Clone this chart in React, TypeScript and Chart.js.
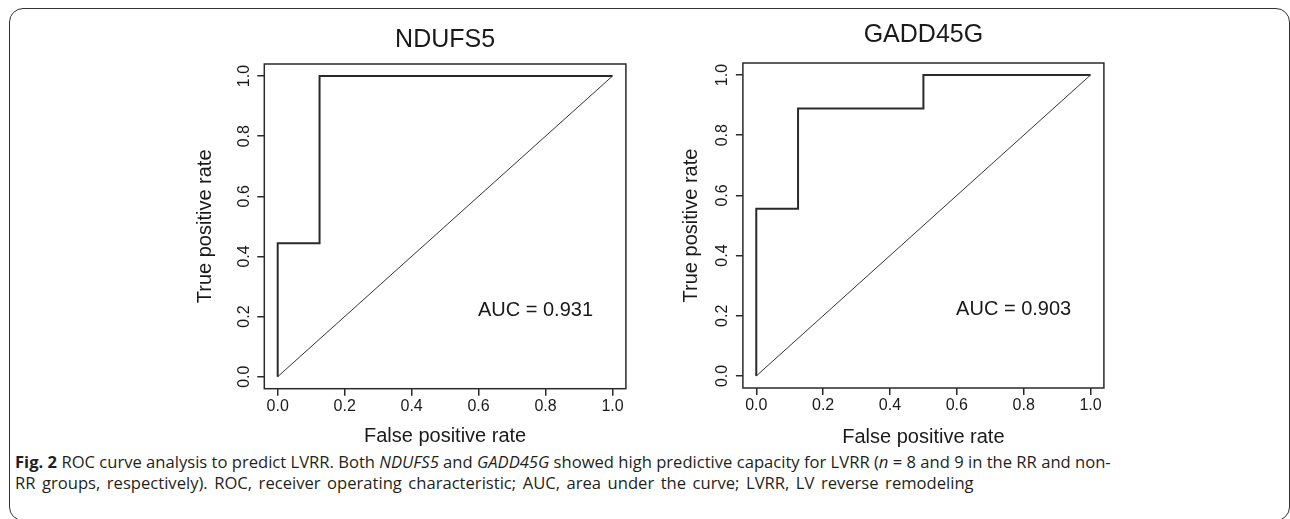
import React, { useEffect, useRef } from "react";
import { Chart, registerables } from "chart.js";

Chart.register(...registerables);

// ---------- data ----------
const TICK_VALUES = [0, 0.2, 0.4, 0.6, 0.8, 1.0];
const TICK_LABELS = ["0.0", "0.2", "0.4", "0.6", "0.8", "1.0"];

const NDUFS5_FPR = [0, 0, 0.125, 0.125, 1];
const NDUFS5_TPR = [0, 0.444, 0.444, 1, 1];

const GADD45G_FPR = [0, 0, 0.125, 0.125, 0.5, 0.5, 1];
const GADD45G_TPR = [0, 0.556, 0.556, 0.889, 0.889, 1, 1];

const CHANCE_FPR = [0, 1];
const CHANCE_TPR = [0, 1];

const PANEL_TITLES = ["NDUFS5", "GADD45G"];
const AUC_TEXTS = ["AUC = 0.931", "AUC = 0.903"];
const AUC_POS_X = 0.77;
const AUC_POS_Y = 0.22;
const X_TITLE = "False positive rate";
const Y_TITLE = "True positive rate";

// ---------- style ----------
const FONT = "'Liberation Sans', Arial, Helvetica, sans-serif";
const INK = "#1a1a1a";
const LINE = "#2a2a2a";

type Layout = {
  left: number;
  width: number;
  height: number;
  padRight: number;
  yAxisWidth: number;
  xAxisHeight: number;
  titlePadTop: number;
  titlePadBottom: number;
  yTitlePadTop: number;
  yTickPad: number;
  xTickPad: number;
  xTitlePadBottom: number;
};

const LAYOUTS: Layout[] = [
  {
    left: 180, width: 460, height: 450, padRight: 14.1,
    yAxisWidth: 84.3, xAxisHeight: 61.3,
    titlePadTop: 25, titlePadBottom: 9,
    yTitlePadTop: 13.5, yTickPad: 1.5, xTickPad: 0.9, xTitlePadBottom: 1.5,
  },
  {
    left: 640, width: 480, height: 450, padRight: 16.1,
    yAxisWidth: 102.9, xAxisHeight: 62,
    titlePadTop: 19.7, titlePadBottom: 13.3,
    yTitlePadTop: 39, yTickPad: 2.6, xTickPad: 1.2, xTitlePadBottom: 1,
  },
];

const framePlugin = {
  id: "rframe",
  afterDraw(chart: any, _args: any, opts: any) {
    const { ctx, chartArea: a } = chart;
    ctx.save();
    ctx.strokeStyle = LINE;
    ctx.lineWidth = 1.5;
    ctx.strokeRect(a.left, a.top, a.right - a.left, a.bottom - a.top);
    const xs = chart.scales.x;
    const ys = chart.scales.y;
    ctx.font = `20px ${FONT}`;
    ctx.fillStyle = INK;
    ctx.textAlign = "center";
    ctx.textBaseline = "middle";
    ctx.fillText(opts.text, xs.getPixelForValue(opts.x), ys.getPixelForValue(opts.y));
    ctx.restore();
  },
};

function tickLabel(v: any) {
  const i = TICK_VALUES.findIndex((t) => Math.abs(t - Number(v)) < 1e-9);
  return i >= 0 ? TICK_LABELS[i] : "";
}

function setTicks(s: any) {
  s.ticks = TICK_VALUES.map((v) => ({ value: v }));
}

function RocPanel({ idx, fpr, tpr }: { idx: number; fpr: number[]; tpr: number[] }) {
  const ref = useRef<HTMLCanvasElement | null>(null);
  const L = LAYOUTS[idx];
  useEffect(() => {
    if (!ref.current) return;
    const grid = {
      display: true,
      drawOnChartArea: false,
      drawTicks: true,
      tickLength: 7,
      color: LINE,
      lineWidth: 1.5,
    };
    const chart = new Chart(ref.current, {
      type: "scatter",
      data: {
        datasets: [
          {
            data: fpr.map((x, i) => ({ x, y: tpr[i] })),
            showLine: true,
            borderColor: LINE,
            borderWidth: 2,
            pointRadius: 0,
            fill: false,
            tension: 0,
          },
          {
            data: CHANCE_FPR.map((x, i) => ({ x, y: CHANCE_TPR[i] })),
            showLine: true,
            borderColor: "#333",
            borderWidth: 1,
            pointRadius: 0,
            fill: false,
          },
        ],
      },
      options: {
        animation: false,
        responsive: false,
        devicePixelRatio: 1,
        layout: { padding: { left: 0, right: L.padRight, top: 0, bottom: 0 } },
        plugins: {
          legend: { display: false },
          tooltip: { enabled: false },
          title: {
            display: true,
            text: PANEL_TITLES[idx],
            fullSize: false,
            color: INK,
            font: { family: FONT, size: 25, weight: "normal", lineHeight: 1.2 },
            padding: { top: L.titlePadTop, bottom: L.titlePadBottom },
          },
          rframe: { text: AUC_TEXTS[idx], x: AUC_POS_X, y: AUC_POS_Y },
        } as any,
        scales: {
          x: {
            type: "linear",
            min: -0.04,
            max: 1.04,
            bounds: "data",
            afterBuildTicks: setTicks,
            afterFit: (s: any) => {
              s.height = L.xAxisHeight;
            },
            ticks: {
              callback: tickLabel,
              autoSkip: false,
              maxRotation: 0,
              padding: L.xTickPad,
              color: INK,
              font: { family: FONT, size: 16, lineHeight: 1.2 },
            },
            grid,
            border: { display: false },
            title: {
              display: true,
              text: X_TITLE,
              color: INK,
              font: { family: FONT, size: 20, lineHeight: 1.2 },
              padding: { top: 0, bottom: L.xTitlePadBottom },
            },
          },
          y: {
            type: "linear",
            min: -0.04,
            max: 1.04,
            bounds: "data",
            afterBuildTicks: setTicks,
            afterFit: (s: any) => {
              s.width = L.yAxisWidth;
            },
            ticks: {
              callback: tickLabel,
              autoSkip: false,
              minRotation: 90,
              maxRotation: 90,
              crossAlign: "center",
              padding: L.yTickPad,
              color: INK,
              font: { family: FONT, size: 16, lineHeight: 1.2 },
            },
            grid,
            border: { display: false },
            title: {
              display: true,
              text: Y_TITLE,
              color: INK,
              font: { family: FONT, size: 20, lineHeight: 1.2 },
              padding: { top: L.yTitlePadTop, bottom: 0 },
            },
          },
        } as any,
      },
      plugins: [framePlugin],
    } as any);
    return () => chart.destroy();
  }, []);
  return (
    <canvas
      ref={ref}
      width={L.width}
      height={L.height}
      style={{ position: "absolute", left: L.left, top: 0, width: L.width, height: L.height, display: "block" }}
    />
  );
}

export default function App() {
  return (
    <div
      style={{
        position: "absolute",
        left: 0,
        top: 0,
        width: 1290,
        height: 519,
        background: "#fff",
        overflow: "hidden",
      }}
    >
      <div
        style={{
          position: "absolute",
          left: 8.5,
          top: 7.5,
          width: 1281,
          height: 513,
          border: "1.5px solid #333",
          borderRadius: 14,
          boxSizing: "border-box",
        }}
      />
      <RocPanel idx={0} fpr={NDUFS5_FPR} tpr={NDUFS5_TPR} />
      <RocPanel idx={1} fpr={GADD45G_FPR} tpr={GADD45G_TPR} />
      <div
        style={{
          position: "absolute",
          left: 15,
          top: 451,
          fontFamily: "'Open Sans', Lato, sans-serif",
          fontSize: 16.6,
          lineHeight: "21px",
          color: "#231f20",
          whiteSpace: "nowrap",
        }}
      >
        <b>Fig. 2</b> ROC curve analysis to predict LVRR. Both <i>NDUFS5</i> and <i>GADD45G</i> showed high
        predictive capacity for LVRR (<i>n</i>&nbsp;=&nbsp;8 and 9 in the RR and non-
        <br />
        <span style={{ wordSpacing: "2.2px" }}>
          RR groups, respectively). ROC, receiver operating characteristic; AUC, area under the curve; LVRR, LV
          reverse remodeling
        </span>
      </div>
    </div>
  );
}
